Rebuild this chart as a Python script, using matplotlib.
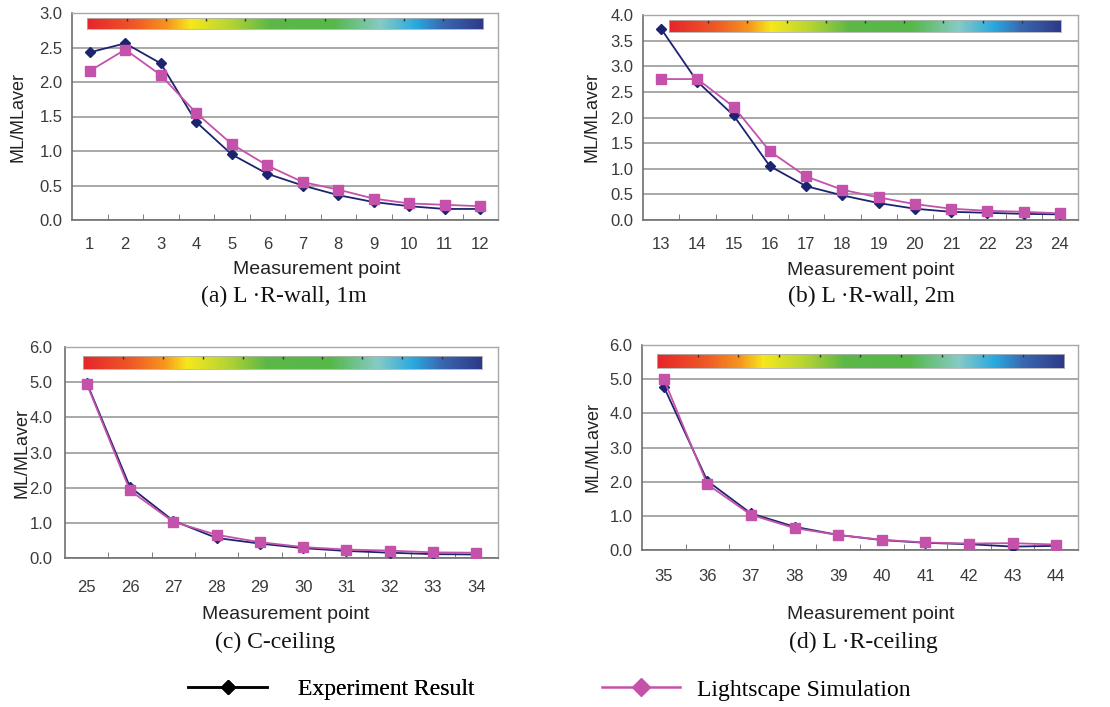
import matplotlib
matplotlib.use("Agg")
import matplotlib.pyplot as plt
import numpy as np
from matplotlib.colors import LinearSegmentedColormap
from matplotlib.lines import Line2D

plt.rcParams["font.family"] = ["Liberation Sans", "DejaVu Sans"]

# ---------------- data ----------------
points_a = [str(i) for i in range(1, 13)]
exp_a = [2.43, 2.56, 2.27, 1.42, 0.95, 0.67, 0.50, 0.36, 0.26, 0.20, 0.16, 0.16]
sim_a = [2.16, 2.47, 2.10, 1.55, 1.10, 0.79, 0.55, 0.44, 0.31, 0.24, 0.22, 0.20]

points_b = [str(i) for i in range(13, 25)]
exp_b = [3.73, 2.70, 2.04, 1.05, 0.66, 0.48, 0.33, 0.22, 0.16, 0.14, 0.12, 0.11]
sim_b = [2.75, 2.75, 2.21, 1.34, 0.85, 0.59, 0.44, 0.31, 0.22, 0.18, 0.16, 0.13]

points_c = [str(i) for i in range(25, 35)]
exp_c = [4.99, 2.02, 1.06, 0.57, 0.41, 0.28, 0.20, 0.15, 0.11, 0.10]
sim_c = [4.96, 1.92, 1.03, 0.66, 0.45, 0.31, 0.24, 0.21, 0.16, 0.15]

points_d = [str(i) for i in range(35, 45)]
exp_d = [4.78, 2.02, 1.07, 0.68, 0.44, 0.29, 0.21, 0.17, 0.10, 0.12]
sim_d = [5.00, 1.92, 1.03, 0.64, 0.44, 0.30, 0.22, 0.19, 0.20, 0.16]

ymax_list = [3.0, 4.0, 6.0, 6.0]
ystep_list = [0.5, 0.5, 1.0, 1.0]
captions = ["(a) L \u00b7R-wall, 1m", "(b) L \u00b7R-wall, 2m", "(c) C-ceiling", "(d) L \u00b7R-ceiling"]
legend_labels = ["Experiment Result", "Lightscape Simulation"]

EXP_COLOR = "#1c2470"
SIM_COLOR = "#c452aa"

spectrum = LinearSegmentedColormap.from_list(
    "spec",
    [(0.0, "#e6262b"), (0.12, "#ef5a26"), (0.20, "#f7941d"), (0.26, "#f6e81c"),
     (0.36, "#b6d433"), (0.46, "#5cb847"), (0.62, "#55b848"), (0.74, "#86cbc5"),
     (0.83, "#2aa9e0"), (0.90, "#3a68b0"), (1.0, "#2d3a8a")])

fig = plt.figure(figsize=(11.1, 7.07), dpi=100)

W, H = 1110, 707
# axes pixel boxes (left, right, top, bottom)
boxes = [(72, 498, 13, 220), (643, 1078, 15, 220), (65, 498, 347, 558), (642, 1078, 345, 550)]
cbar_boxes = [(0.035, 0.965, 0.923, 0.976), (0.06, 0.961, 0.917, 0.976),
              (0.042, 0.963, 0.896, 0.957), (0.034, 0.968, 0.888, 0.956)]
xtick_pads = [12, 12, 15.5, 14]
ytick_pads = [7, 7, 9, 7]
xlabel_pos = [((317 - 72) / 426, -0.24), ((871 - 643) / 435, -0.244),
              ((286 - 65) / 433, -0.27), ((871 - 642) / 436, -0.317)]
ylabel_x = [-0.127, -0.117, -0.099, -0.112]
caption_pos = [(284, 296), (871, 296), (275, 642), (863, 642)]

data = [(points_a, exp_a, sim_a), (points_b, exp_b, sim_b),
        (points_c, exp_c, sim_c), (points_d, exp_d, sim_d)]

for i, ((cats, ex, si), (l, r, t, b)) in enumerate(zip(data, boxes)):
    ax = fig.add_axes([l / W, 1 - b / H, (r - l) / W, (b - t) / H])
    x = np.arange(len(cats))
    ax.set_xlim(-0.5, len(cats) - 0.5)
    ax.set_ylim(0, ymax_list[i])
    yt = np.arange(0, ymax_list[i] + 1e-9, ystep_list[i])
    ax.set_yticks(yt)
    ax.set_yticklabels([f"{v:.1f}" for v in yt])
    ax.yaxis.grid(True, color="#9a9a9a", lw=1.2)
    ax.set_axisbelow(True)
    ax.set_xticks(x)
    ax.set_xticklabels(cats)
    ax.set_xticks(np.arange(0.5, len(cats) - 0.5, 1.0), minor=True)
    ax.tick_params(axis="x", which="major", length=0, pad=xtick_pads[i],
                   labelsize=12, labelcolor="#3a3a3a")
    ax.tick_params(axis="x", which="minor", direction="in", length=4, color="#666666")
    ax.tick_params(axis="y", length=0, pad=ytick_pads[i], labelsize=12, labelcolor="#3a3a3a")
    for s in ["top", "right"]:
        ax.spines[s].set_color("#a8a8a8")
        ax.spines[s].set_linewidth(1.0)
    for s in ["left", "bottom"]:
        ax.spines[s].set_color("#707070")
        ax.spines[s].set_linewidth(1.2)

    ax.plot(x, ex, color=EXP_COLOR, lw=1.3, marker="D", ms=5, zorder=3)
    ax.plot(x, si, color=SIM_COLOR, lw=1.3, marker="s", ms=6.5, zorder=3)

    ax.set_xlabel("Measurement point", fontsize=14, color="#222222")
    ax.xaxis.set_label_coords(*xlabel_pos[i])
    ax.xaxis.label.set_va("center")
    ax.set_ylabel("ML/MLaver", fontsize=13, color="#222222")
    ax.yaxis.set_label_coords(ylabel_x[i], 0.5)
    ax.yaxis.label.set_va("center")

    # colour strip
    cx0, cx1, cy0, cy1 = cbar_boxes[i]
    cax = ax.inset_axes([cx0, cy0, cx1 - cx0, cy1 - cy0])
    cax.imshow(np.linspace(0, 1, 400)[None, :], cmap=spectrum, aspect="auto",
               extent=[0, 10, 0, 1])
    cax.set_xticks(np.arange(1, 10))
    cax.set_xticklabels([])
    cax.set_yticks([])
    cax.tick_params(axis="x", direction="in", length=2.5, width=1, color="#333333",
                    top=True, bottom=False, labeltop=False, labelbottom=False)
    for s in cax.spines.values():
        s.set_color("#b0b0b0")
        s.set_linewidth(0.6)

    cx, cy = caption_pos[i]
    fig.text(cx / W, 1 - cy / H, captions[i], ha="center", va="center",
             fontsize=17, family="Liberation Serif", color="#111111")

h1 = Line2D([], [], color="black", lw=1.8, marker="D", ms=7)
h2 = Line2D([], [], color=SIM_COLOR, lw=1.8, marker="D", ms=9)
leg1 = fig.legend([h1], [legend_labels[0]], loc="center left",
                  bbox_to_anchor=(188 / W, 1 - 689 / H), frameon=False,
                  handlelength=3.35, handletextpad=1.3, borderpad=0, borderaxespad=0,
                  prop={"family": "Liberation Serif", "size": 17})
leg2 = fig.legend([h2], [legend_labels[1]], loc="center left",
                  bbox_to_anchor=(602 / W, 1 - 690 / H), frameon=False,
                  handlelength=3.3, handletextpad=0.72, borderpad=0, borderaxespad=0,
                  prop={"family": "Liberation Serif", "size": 17})
fig.add_artist(leg1)

fig.savefig("out.png", dpi=100, facecolor="white")
